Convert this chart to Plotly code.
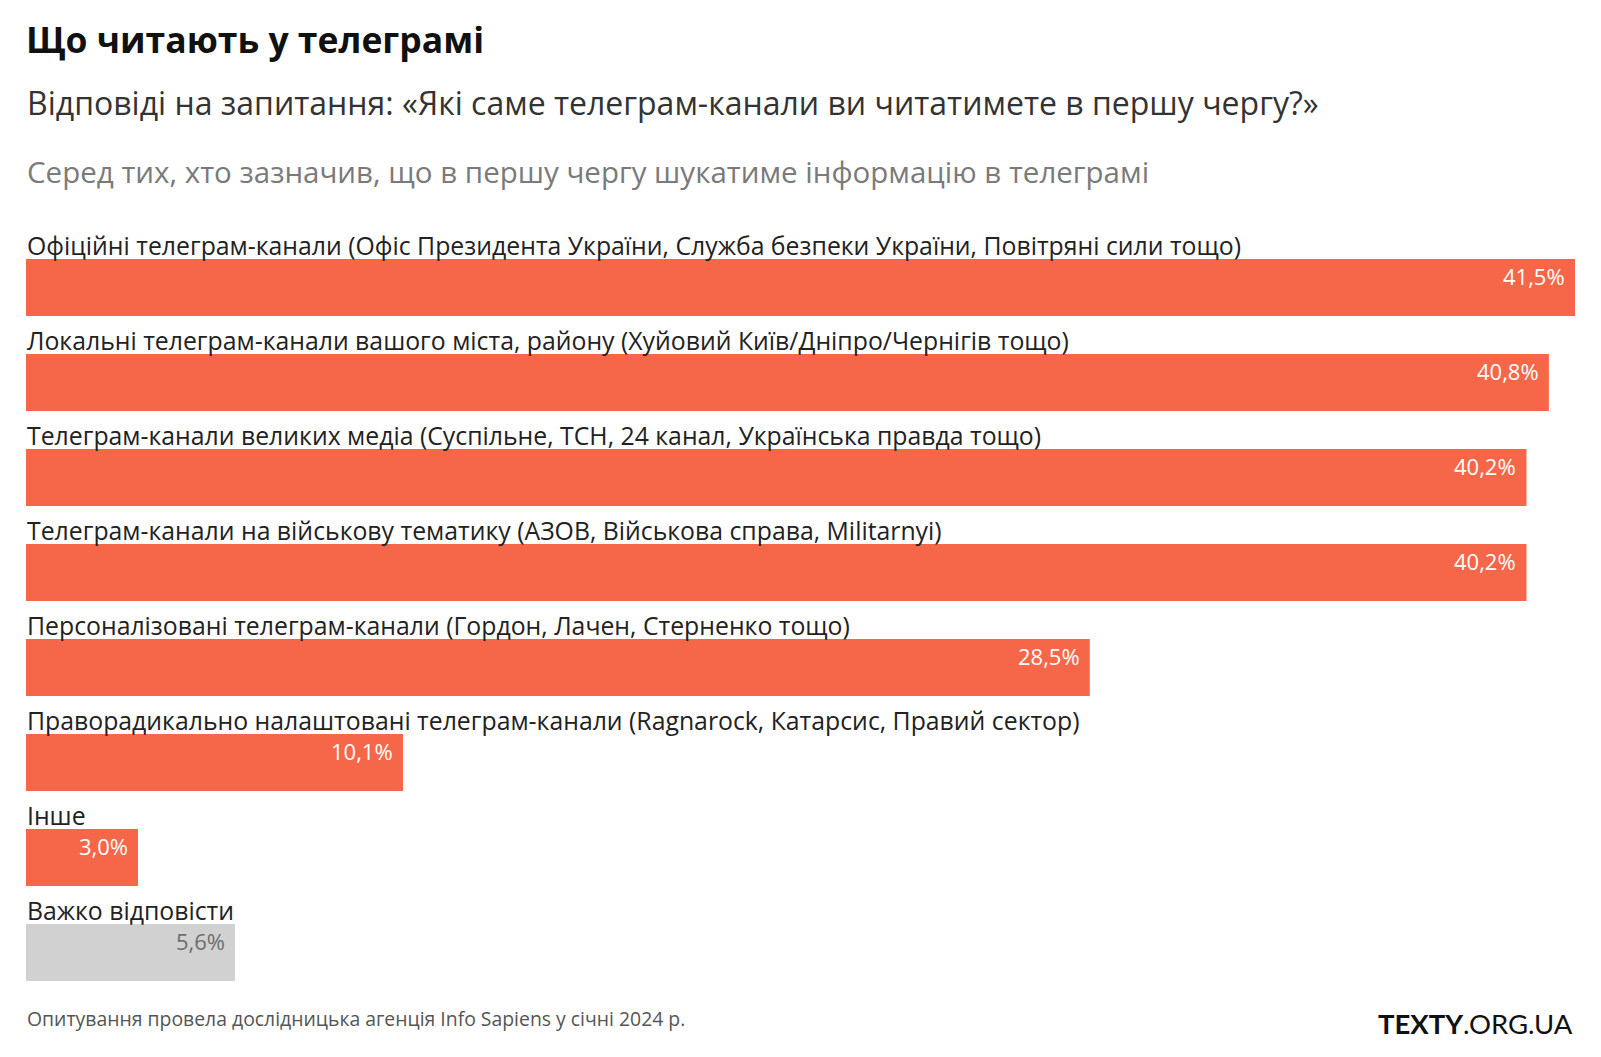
import plotly.graph_objects as go

categories = [
    "Офіційні телеграм-канали (Офіс Президента України, Служба безпеки України, Повітряні сили тощо)",
    "Локальні телеграм-канали вашого міста, району (Хуйовий Київ/Дніпро/Чернігів тощо)",
    "Телеграм-канали великих медіа (Суспільне, ТСН, 24 канал, Українська правда тощо)",
    "Телеграм-канали на військову тематику (АЗОВ, Військова справа, Militarnyi)",
    "Персоналізовані телеграм-канали (Гордон, Лачен, Стерненко тощо)",
    "Праворадикально налаштовані телеграм-канали (Ragnarock, Катарсис, Правий сектор)",
    "Інше",
    "Важко відповісти",
]
values = [41.5, 40.8, 40.2, 40.2, 28.5, 10.1, 3.0, 5.6]
value_labels = ["41,5%", "40,8%", "40,2%", "40,2%", "28,5%", "10,1%", "3,0%", "5,6%"]

# page has an 8px body margin; figure sized to fit the window
OFF = 8
W, H = 1601 - 2 * OFF, 1057 - 2 * OFF
ML = 26 - OFF
MR = W - (1575 - OFF)
MT = 240 - OFF
MB = H - (1000 - OFF)
FONT = "Open Sans"

ORANGE = "#f56748"
GREY = "#d1d1d1"
colors = [ORANGE] * 7 + [GREY]
txtcolors = ["white"] * 7 + ["#6e6e6e"]

ys = list(range(len(categories)))

fig = go.Figure(go.Bar(
    x=values, y=ys, orientation="h", width=0.6,
    marker=dict(color=colors, line=dict(width=0)),
    hoverinfo="skip",
))

def py(px):
    # px = window pixel y
    return (H - MB - (px - OFF)) / (H - MT - MB)

ann = []
for i, (c, v, lab) in enumerate(zip(categories, values, value_labels)):
    ann.append(dict(x=0, y=i, xref="x", yref="y", text=c, showarrow=False,
                    xanchor="left", yanchor="middle", xshift=-1, yshift=43,
                    font=dict(family=FONT, size=24.8, color="#222222")))
    ann.append(dict(x=v, y=i, xref="x", yref="y", text=lab, showarrow=False,
                    xanchor="right", yanchor="middle", xshift=-8, yshift=12,
                    font=dict(family=FONT, size=22, color=txtcolors[i])))

ann += [
    dict(x=0, y=py(39), xref="paper", yref="paper", text="<b>Що читають у телеграмі</b>",
         showarrow=False, xanchor="left", yanchor="middle", xshift=-2,
         font=dict(family=FONT, size=35.5, color="#111111")),
    dict(x=0, y=py(102), xref="paper", yref="paper",
         text="Відповіді на запитання: «Які саме телеграм-канали ви читатимете в першу чергу?»",
         showarrow=False, xanchor="left", yanchor="middle", xshift=-1,
         font=dict(family=FONT, size=32, color="#333333")),
    dict(x=0, y=py(171), xref="paper", yref="paper",
         text="Серед тих, хто зазначив, що в першу чергу шукатиме інформацію в телеграмі",
         showarrow=False, xanchor="left", yanchor="middle", xshift=-1,
         font=dict(family=FONT, size=29.5, color="#7a7a7a")),
    dict(x=0, y=py(1019), xref="paper", yref="paper",
         text="Опитування провела дослідницька агенція Info Sapiens у січні 2024 р.",
         showarrow=False, xanchor="left", yanchor="middle", xshift=-1,
         font=dict(family=FONT, size=19.4, color="#555555")),
    dict(x=1, y=py(1023), xref="paper", yref="paper",
         text="<b>TEXTY</b>.ORG.UA",
         showarrow=False, xanchor="right", yanchor="middle",
         font=dict(family="Lato", size=27.5, color="#111111")),
]

fig.update_layout(
    width=W, height=H,
    margin=dict(l=ML, r=MR, t=MT, b=MB, pad=0),
    plot_bgcolor="white", paper_bgcolor="white",
    showlegend=False,
    xaxis=dict(range=[0, 41.5], visible=False, fixedrange=True),
    yaxis=dict(range=[7.5, -0.5], visible=False, fixedrange=True),
    annotations=ann,
    bargap=0.4,
)

fig.write_html("out.html", config={"displayModeBar": False})
